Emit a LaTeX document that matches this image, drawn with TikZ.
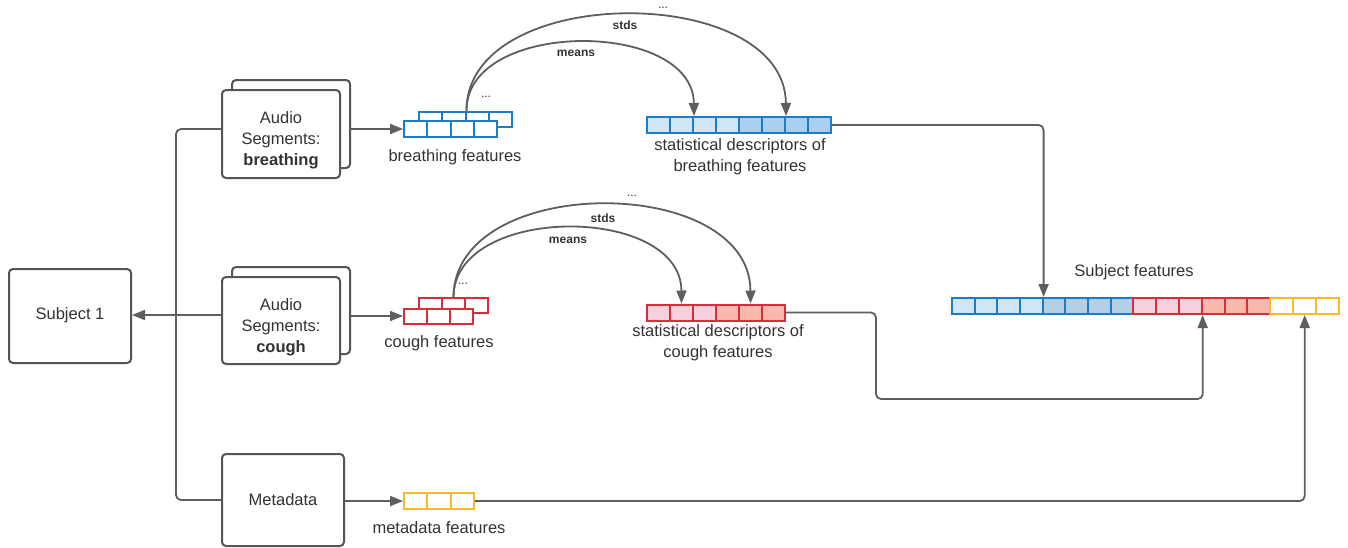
\documentclass[tikz,border=0pt]{standalone}
\usepackage{fontspec}
\setmainfont{Liberation Sans}
\usetikzlibrary{arrows.meta,calc}
\definecolor{linec}{HTML}{5E5E5E}
\definecolor{boxc}{HTML}{555555}
\definecolor{txtc}{HTML}{333333}
\definecolor{blueb}{HTML}{1C7CC7}
\definecolor{bluel}{HTML}{CFE6F7}
\definecolor{blued}{HTML}{A8D0F0}
\definecolor{blueg}{HTML}{B3D0E8}
\definecolor{redb}{HTML}{D92E3A}
\definecolor{pinkf}{HTML}{F7D0DD}
\definecolor{salmf}{HTML}{F9B8AD}
\definecolor{yelb}{HTML}{F7B924}
\begin{document}
\begin{tikzpicture}[x=1pt,y=-1pt,
  box/.style={draw=boxc, line width=2pt, rounded corners=4pt, fill=white, inner sep=0pt},
  txt/.style={text=txtc, font=\fontsize{16.5}{21}\selectfont, align=center, inner sep=0pt},
  lbl/.style={text=txtc, font=\bfseries\fontsize{12}{14}\selectfont, inner sep=0pt},
  dots/.style={text=txtc, font=\fontsize{12}{14}\selectfont, inner sep=0pt},
  conn/.style={draw=linec, line width=1.8pt},
  arr/.style={-{Triangle[length=13pt,width=10pt]}},
  cell/.style={rectangle, inner sep=0pt, line width=2pt, minimum height=16pt}
]
\path[fill=white, use as bounding box] (0,0) rectangle (1348,547);

% left boxes
\node[box, minimum width=122pt, minimum height=94pt] (subj) at (70,316) {};
\node[txt] (subjt) at (70,315) {Subject 1};

\node[box, minimum width=118pt, minimum height=88pt] (abk) at (291,124) {};
\node[box, minimum width=118pt, minimum height=88pt] (ab) at (281,134) {};
\node[txt] (abt) at (281,140) {Audio\\Segments:\\\textbf{breathing}};

\node[box, minimum width=118pt, minimum height=87pt] (ack) at (291,310.5) {};
\node[box, minimum width=118pt, minimum height=87pt] (ac) at (281,320.5) {};
\node[txt] (act) at (281,327) {Audio\\Segments:\\\textbf{cough}};

\node[box, minimum width=122pt, minimum height=92pt] (md) at (283,500) {};
\node[txt] (mdt) at (283,500) {Metadata};

% breathing features
\foreach \i in {1,...,4}
  \node[cell, draw=blueb, fill=white, minimum width=23.25pt, minimum height=15.5pt] (bfb\i) at ({419+23.25*(\i-0.5)},119.5) {};
\foreach \i in {1,...,4}
  \node[cell, draw=blueb, fill=white, minimum width=23.25pt, minimum height=15.5pt] (bff\i) at ({404+23.25*(\i-0.5)},129) {};
\node[txt] (bflab) at (455,157) {breathing features};
\node[dots] (bfdots) at (486,97) {...};

% cough features
\foreach \i in {1,...,3}
  \node[cell, draw=redb, fill=white, minimum width=23pt, minimum height=15pt] (cfb\i) at ({419+23*(\i-0.5)},305.5) {};
\foreach \i in {1,...,3}
  \node[cell, draw=redb, fill=white, minimum width=23pt, minimum height=15pt] (cff\i) at ({404+23*(\i-0.5)},316) {};
\node[txt] (cflab) at (439,343) {cough features};
\node[dots] (cfdots) at (463,284) {...};

% metadata features
\foreach \i in {1,...,3}
  \node[cell, draw=yelb, fill=white, minimum width=23.3pt] (mf\i) at ({404+23.3*(\i-0.5)},501) {};
\node[txt] (mflab) at (439,528) {metadata features};

% breathing descriptors
\foreach \i in {1,...,4}
  \node[cell, draw=blueb, fill=bluel, minimum width=23pt] (bd\i) at ({647+23*(\i-0.5)},125) {};
\foreach \i in {5,...,8}
  \node[cell, draw=blueb, fill=blued, minimum width=23pt] (bd\i) at ({647+23*(\i-0.5)},125) {};
\node[txt] (bdlab) at (740,157) {statistical descriptors of\\breathing features};

% cough descriptors
\foreach \i in {1,...,3}
  \node[cell, draw=redb, fill=pinkf, minimum width=23pt] (cd\i) at ({647+23*(\i-0.5)},312.5) {};
\foreach \i in {4,...,6}
  \node[cell, draw=redb, fill=salmf, minimum width=23pt] (cd\i) at ({647+23*(\i-0.5)},312.5) {};
\node[txt] (cdlab) at (718,343) {statistical descriptors of\\cough features};

% subject features
\foreach \i in {1,...,4}
  \node[cell, draw=blueb, fill=bluel, minimum width=22.65pt] (sb\i) at ({952+22.65*(\i-0.5)},306) {};
\foreach \i in {5,...,8}
  \node[cell, draw=blueb, fill=blueg, minimum width=22.65pt] (sb\i) at ({952+22.65*(\i-0.5)},306) {};
\foreach \i in {1,...,3}
  \node[cell, draw=redb, fill=pinkf, minimum width=22.83pt] (sr\i) at ({1133.2+22.83*(\i-0.5)},306) {};
\foreach \i in {4,...,6}
  \node[cell, draw=redb, fill=salmf, minimum width=22.83pt] (sr\i) at ({1133.2+22.83*(\i-0.5)},306) {};
\foreach \i in {1,...,3}
  \node[cell, draw=yelb, fill=white, minimum width=23pt] (sy\i) at ({1270.2+23*(\i-0.5)},306) {};
\node[txt] (sflab) at (1134,272) {Subject features};

% bus and connectors on the left
\coordinate (bus) at (176,315);
\draw[conn, rounded corners=5pt] ($(ab.west)+(0,-5)$) -| (bus) |- (md.west);
\draw[conn] (ac.west |- bus) -- (bus);
\draw[conn, arr] (bus) -- (subj.east |- bus);

\draw[conn, arr] (abk.east |- bff1.west) -- (bff1.west);
\draw[conn, arr] (ack.east |- cff1.west) -- (cff1.west);
\draw[conn, arr] (md.east |- mf1.west) -- (mf1.west);

% curved arrows breathing
\draw[conn, arr] (bfb2.north east) .. controls (466,19) and (693,19) .. (bd2.north east);
\draw[conn, arr] (bfb2.north east) .. controls (466,-18) and (785,-18) .. (bd6.north east);
\node[lbl] (bmeans) at (576,53) {means};
\node[lbl] (bstds) at (625,25) {stds};
\node[dots] (bdots) at (663,8) {...};

% curved arrows cough
\draw[conn, arr] (cfb2.north) .. controls (454,204) and (681,204) .. (cd2.north);
\draw[conn, arr] (cfb2.north) .. controls (454,173) and (750,173) .. (cd5.north);
\node[lbl] (cmeans) at (568,240) {means};
\node[lbl] (cstds) at (603,218) {stds};
\node[dots] (cdots) at (632,196) {...};

% right connectors
\coordinate (cturn) at (876,399);
\draw[conn, arr, rounded corners=5pt] (bd8.east) -| (sb4.north east);
\draw[conn, arr, rounded corners=5pt] (cd6.east) -| (cturn) -| (sr3.south east);
\draw[conn, arr, rounded corners=5pt] (mf3.east) -| (sy2.south);
\end{tikzpicture}
\end{document}
